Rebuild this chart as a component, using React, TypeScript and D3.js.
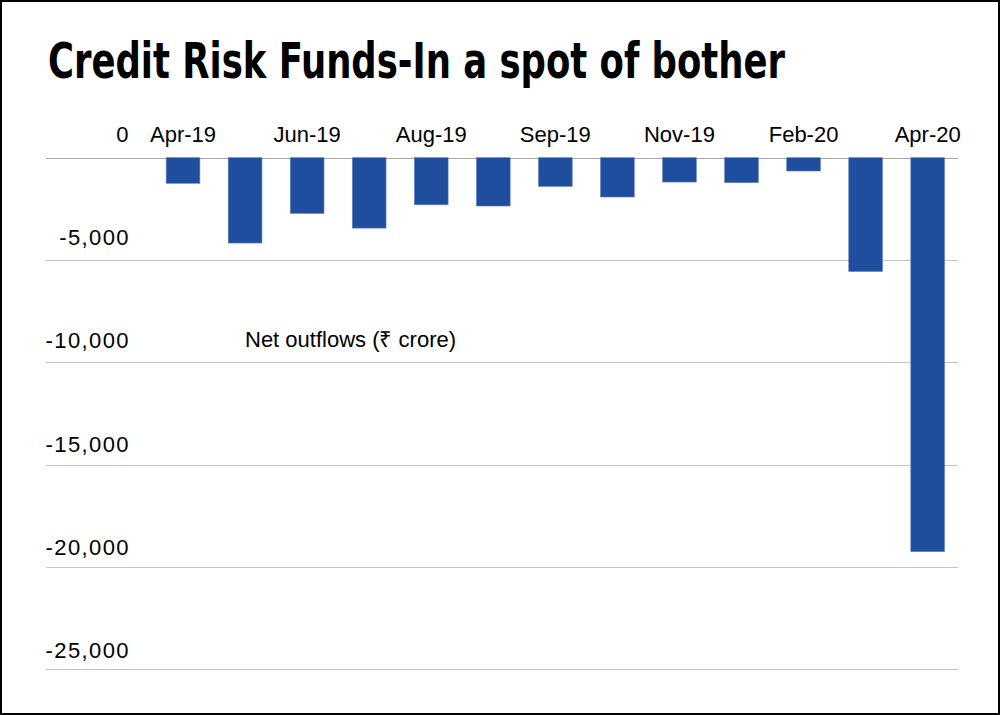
import * as d3 from 'd3';
import React from 'react';

// net outflows, Rs crore
const categories = [
  'Apr-19', 'May-19', 'Jun-19', 'Jul-19', 'Aug-19', 'Aug-19*', 'Sep-19',
  'Oct-19', 'Nov-19', 'Dec-19', 'Feb-20', 'Mar-20', 'Apr-20',
];
const outflows = [-1250, -4170, -2720, -3440, -2300, -2360, -1400, -1920, -1190, -1220, -650, -5560, -19250];
const shownLabels = ['Apr-19', 'Jun-19', 'Aug-19', 'Sep-19', 'Nov-19', 'Feb-20', 'Apr-20'];
const yTicks = [0, -5000, -10000, -15000, -20000, -25000];

const W = 1000;
const H = 715;
const gridLeft = 46;
const labelRight = 130;

function App() {
  const x = d3
    .scaleBand<string>()
    .domain(categories)
    .range([152, 958.7])
    .paddingInner(0.457)
    .paddingOuter(0.2285);

  const y = d3.scaleLinear().domain([-25000, 0]).range([669.3, 157.7]);
  // excel spreads the axis labels a touch wider than the gridlines
  const labelY = d3.scaleLinear().domain([-25000, 0]).range([658.3, 141.7]);
  const fmt = d3.format(',');

  return (
    <svg width={W} height={H} style={{ position: 'absolute', left: 0, top: 0, background: '#fff' }}>
      <rect x={1} y={1} width={W - 2} height={H - 2} fill="#fff" stroke="#000" strokeWidth={2} />

      <text
        x={48}
        y={78}
        fontFamily="'Liberation Sans Narrow', 'DejaVu Sans Condensed', sans-serif"
        fontWeight="bold"
        fontSize={49}
        textLength={737}
        lengthAdjust="spacingAndGlyphs"
        fill="#000"
      >
        Credit Risk Funds-In a spot of bother
      </text>

      {/* gridlines */}
      {yTicks.map((t) => (
        <line
          key={t}
          x1={gridLeft}
          x2={958}
          y1={Math.round(y(t)) + 0.5}
          y2={Math.round(y(t)) + 0.5}
          stroke={t === 0 ? '#a6a6a6' : '#c4c4c4'}
          strokeWidth={1.2}
        />
      ))}

      {/* y labels */}
      {yTicks.map((t) => (
        <text
          key={t}
          x={labelRight}
          y={labelY(t)}
          textAnchor="end"
          fontFamily="'Liberation Sans', Arial, sans-serif"
          fontSize={22}
          letterSpacing={1.4}
          fill="#000"
        >
          {fmt(t).replace('−', '-')}
        </text>
      ))}

      {/* bars */}
      {outflows.map((v, i) => (
        <rect
          key={categories[i]}
          x={x(categories[i])}
          y={y(0)}
          width={x.bandwidth()}
          height={y(v) - y(0)}
          fill="#1f4e9f"
          stroke="#5a7cbc"
          strokeWidth={0.6}
        />
      ))}

      {/* category labels */}
      {shownLabels.map((c) => (
        <text
          key={c}
          x={(x(c) ?? 0) + x.bandwidth() / 2}
          y={141.7}
          textAnchor="middle"
          fontFamily="'Liberation Sans', Arial, sans-serif"
          fontSize={22}
          fill="#000"
        >
          {c}
        </text>
      ))}

      <text
        x={245}
        y={347}
        fontFamily="'Liberation Sans Narrow', 'Liberation Sans', sans-serif"
        fontSize={22}
        fill="#000"
      >
        Net outflows (₹ crore)
      </text>
    </svg>
  );
}

export default App;
